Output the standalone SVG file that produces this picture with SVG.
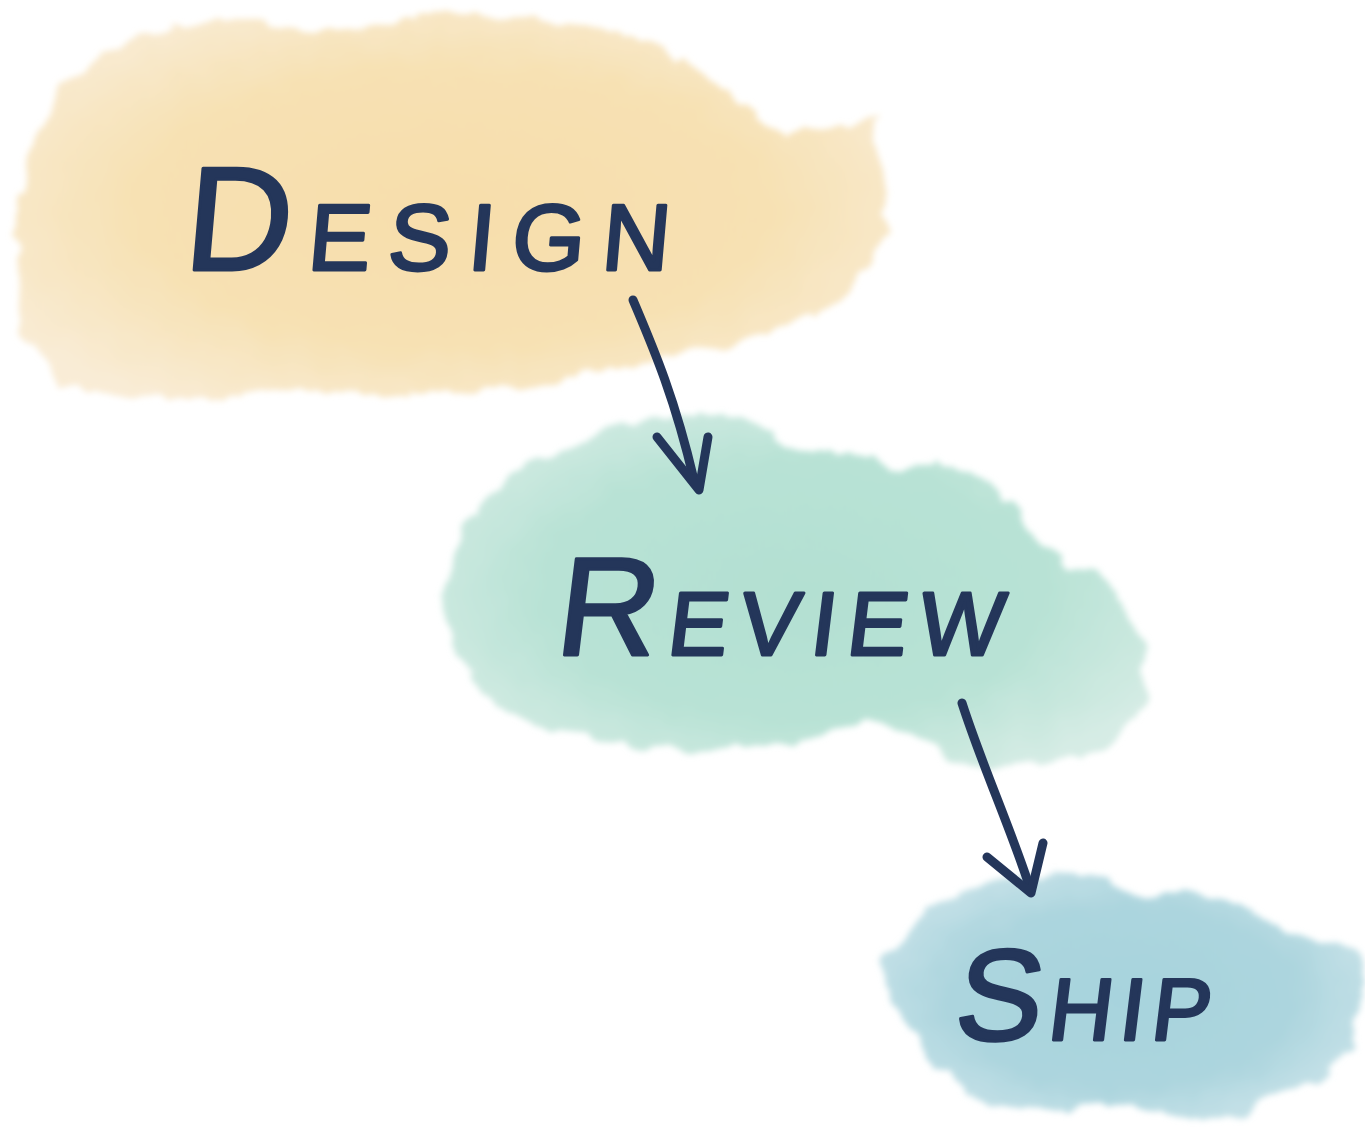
<svg xmlns="http://www.w3.org/2000/svg" width="1365" height="1135" viewBox="0 0 1365 1135">
  <style>
    .lbl { font-family: "Liberation Sans", "DejaVu Sans", sans-serif; fill: #24365a; stroke: #24365a; stroke-width: 3; stroke-linejoin: round; }
    .conn { fill: none; stroke: #24365a; stroke-width: 9; stroke-linecap: round; stroke-linejoin: round; }
  </style>
  <defs>
    <filter id="wc" x="-10%" y="-10%" width="120%" height="120%">
      <feTurbulence type="fractalNoise" baseFrequency="0.035" numOctaves="3" seed="4" result="n"/>
      <feDisplacementMap in="SourceGraphic" in2="n" scale="22" xChannelSelector="R" yChannelSelector="G" result="d"/>
      <feGaussianBlur in="d" stdDeviation="3"/>
    </filter>
    <radialGradient id="gY" cx="0.5" cy="0.5" r="0.6">
      <stop offset="0" stop-color="#f7deab"/>
      <stop offset="0.6" stop-color="#f7e1b3"/>
      <stop offset="1" stop-color="#f9ecd6"/>
    </radialGradient>
    <radialGradient id="gM" cx="0.5" cy="0.5" r="0.6">
      <stop offset="0" stop-color="#b3e0d2"/>
      <stop offset="0.6" stop-color="#b8e2d5"/>
      <stop offset="1" stop-color="#d6ece5"/>
    </radialGradient>
    <radialGradient id="gB" cx="0.5" cy="0.5" r="0.6">
      <stop offset="0" stop-color="#a7d3dd"/>
      <stop offset="0.6" stop-color="#acd5de"/>
      <stop offset="1" stop-color="#cde5ea"/>
    </radialGradient>
  </defs>

  <g id="node-design">
    <path filter="url(#wc)" fill="url(#gY)" d="M60,85 L138,36 L230,16 L317,34 L403,19 L519,14 L605,29 L663,42 L720,86 L790,135 L876,120 L890,236 L836,303 L749,337 L692,354 L605,370 L519,387 L403,395 L288,392 L173,400 L58,385 L23,337 L14,236 L32,140 Z"/>
    <text class="lbl" transform="translate(182,270) skewX(-5)" textLength="486" lengthAdjust="spacing"><tspan font-size="148">D</tspan><tspan font-size="94">ESIGN</tspan></text>
  </g>

  <g id="node-review">
    <path filter="url(#wc)" fill="url(#gM)" d="M470,520 L520,470 L600,430 L680,412 L760,420 L790,452 L850,452 L900,470 L935,460 L990,482 L1030,530 L1060,560 L1095,572 L1122,604 L1145,650 L1145,705 L1115,742 L1060,762 L1000,767 L950,760 L905,732 L860,722 L800,742 L740,748 L680,752 L600,742 L540,724 L490,704 L460,664 L445,620 L450,570 Z"/>
    <text class="lbl" transform="translate(553,655) skewX(-7)" textLength="448" lengthAdjust="spacing"><tspan font-size="140">R</tspan><tspan font-size="90">EVIEW</tspan></text>
  </g>

  <g id="node-ship">
    <path filter="url(#wc)" fill="url(#gB)" d="M900,940 L940,900 L1000,880 L1050,872 L1100,880 L1150,900 L1200,890 L1250,910 L1280,930 L1320,940 L1358,950 L1360,1000 L1347,1050 L1318,1082 L1280,1094 L1250,1112 L1200,1120 L1150,1112 L1100,1102 L1050,1112 L1000,1106 L952,1082 L920,1042 L890,1000 L882,962 Z"/>
    <text class="lbl" transform="translate(952,1040) skewX(-7)" textLength="256" lengthAdjust="spacing"><tspan font-size="130">S</tspan><tspan font-size="88">HIP</tspan></text>
  </g>

  <g id="connectors">
    <path class="conn" d="M633,300 C652,345 674,395 694,480"/>
    <path class="conn" d="M657,437 L699,490 L708,437"/>
    <path class="conn" d="M962,703 C982,765 1008,822 1029,885"/>
    <path class="conn" d="M987,857 L1031,893 L1043,843"/>
  </g>
</svg>
